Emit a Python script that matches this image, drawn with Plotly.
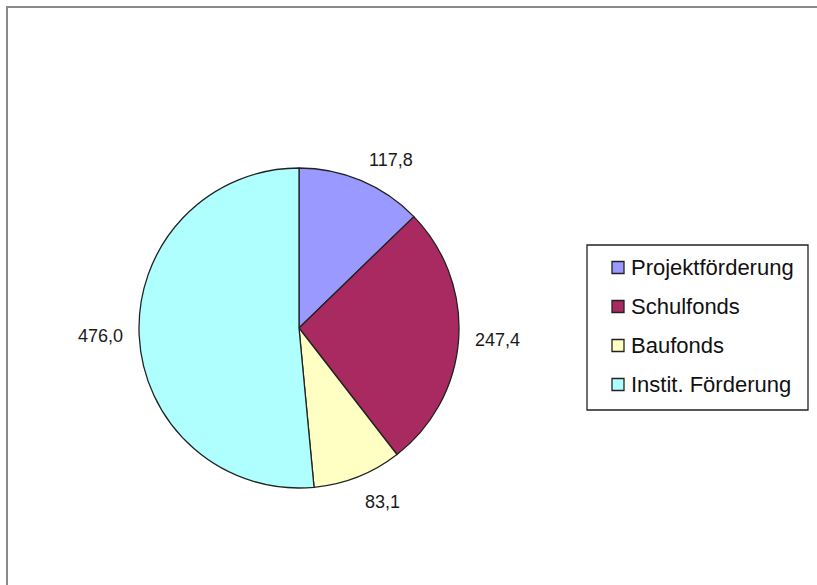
import math
import plotly.graph_objects as go

W, H = 817, 585

categories = ["Projektförderung", "Schulfonds", "Baufonds", "Instit. Förderung"]
values = [117.8, 247.4, 83.1, 476.0]
value_labels = ["117,8", "247,4", "83,1", "476,0"]
colors = ["#9999FF", "#A82A60", "#FFFFC4", "#B0FFFF"]

# pie geometry (pixels)
CX, CY, R = 299, 328, 160
LABEL_GAP = 14

def px(x):
    return x / W

def py(y):
    return 1 - y / H

FONT = "Liberation Sans, Arial, sans-serif"

fig = go.Figure()
fig.add_trace(go.Pie(
    labels=categories,
    values=values,
    sort=False,
    direction="clockwise",
    rotation=0,
    marker=dict(colors=colors, line=dict(color="#222222", width=1.3)),
    textinfo="none",
    domain=dict(x=[px(CX - R), px(CX + R)], y=[py(CY + R), py(CY - R)]),
    showlegend=False,
    hoverinfo="label+value",
))

shapes = []
annotations = []

# data labels placed outside each slice at its mid-angle
total = sum(values)
cum = 0.0
for v, lab in zip(values, value_labels):
    mid = (cum + v / 2) / total * 2 * math.pi
    cum += v
    s, c = math.sin(mid), math.cos(mid)
    x = CX + (R + LABEL_GAP) * s
    y = CY - (R + LABEL_GAP) * c
    xanchor = "left" if s > 0.1 else ("right" if s < -0.1 else "center")
    if c > 0.5:
        yanchor, yshift = "bottom", -4
    elif c < -0.5:
        yanchor, yshift = "top", 0
    else:
        yanchor, yshift = "middle", 0
    annotations.append(dict(x=px(x), y=py(y), xref="paper", yref="paper", text=lab,
                            showarrow=False, xanchor=xanchor, yanchor=yanchor, yshift=yshift,
                            font=dict(family=FONT, size=18, color="#1a1a1a")))

# outer chart border
shapes.append(dict(type="rect", xref="paper", yref="paper",
                   x0=px(7), x1=px(830), y0=py(600), y1=py(7),
                   line=dict(color="#8a8a8a", width=2), layer="above"))
# legend box
shapes.append(dict(type="rect", xref="paper", yref="paper",
                   x0=px(587), x1=px(808), y0=py(410), y1=py(245),
                   line=dict(color="#222222", width=1.3), fillcolor="white", layer="below"))
row_y = [267.5, 306.5, 345.5, 384.5]
for cat, col, yy in zip(categories, colors, row_y):
    shapes.append(dict(type="rect", xref="paper", yref="paper",
                       x0=px(612), x1=px(624), y0=py(yy + 6), y1=py(yy - 6),
                       line=dict(color="#222222", width=1.3), fillcolor=col))
    annotations.append(dict(x=px(629), y=py(yy), xref="paper", yref="paper",
                            text=cat, showarrow=False, xanchor="left", yanchor="middle",
                            font=dict(family=FONT, size=22, color="#111111")))

fig.update_layout(
    width=W, height=H,
    margin=dict(l=0, r=0, t=0, b=0),
    paper_bgcolor="white",
    plot_bgcolor="white",
    separators=",.",
    shapes=shapes,
    annotations=annotations,
)

fig.write_html("out.html")
